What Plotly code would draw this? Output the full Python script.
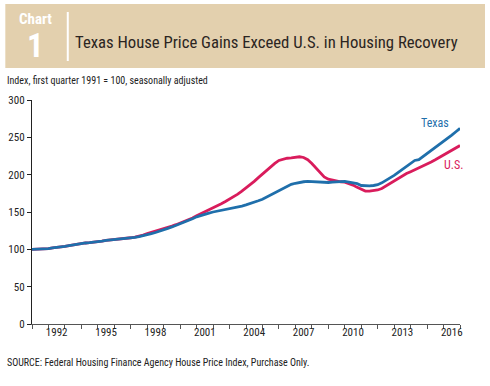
import plotly.graph_objects as go

# ---------------- data (quarterly, index 1991Q1 = 100) ----------------
years = list(range(1991, 2018))
texas = [
    100, 100, 100, 100.5,      # 1991
    101, 102, 102.5, 103,      # 1992
    104, 105, 106, 107,        # 1993
    108, 108.5, 109, 109.5,    # 1994
    110, 111, 112, 112.5,      # 1995
    113, 113.5, 114, 114.5,    # 1996
    115, 116, 117, 118,        # 1997
    119.5, 121, 122.5, 124,    # 1998
    126, 128, 130, 132,        # 1999
    134, 136.5, 139, 141,      # 2000
    143.5, 145.5, 147, 148.5,  # 2001
    150, 151, 152, 153,        # 2002
    154, 155, 156.5, 158,      # 2003
    159.5, 161, 163, 165,      # 2004
    167, 170, 173, 176,        # 2005
    179, 182, 185, 187,        # 2006
    188.5, 190, 190.5, 191,    # 2007
    190.5, 191, 190, 189.5,    # 2008
    189.5, 190, 190.5, 191,    # 2009
    191, 190, 189, 188,        # 2010
    185.5, 185, 185, 185.5,    # 2011
    186.5, 189, 192, 195,      # 2012
    199, 203, 207, 211,        # 2013
    215, 219, 220, 224,        # 2014
    228, 232, 236, 240,        # 2015
    244, 248.5, 253, 257.5,    # 2016
    262,                       # 2017Q1
]
us = [
    100, 100, 100, 100.5,      # 1991
    101, 102, 102.5, 103,      # 1992
    104, 105, 106, 107,        # 1993
    108, 108.5, 109, 109.5,    # 1994
    110, 111, 112, 112.5,      # 1995
    113, 113.5, 114.5, 115,    # 1996
    115.5, 116.5, 117.5, 119,  # 1997
    121, 122.5, 124, 125.5,    # 1998
    127, 129, 131, 133,        # 1999
    135, 137.5, 140, 142,      # 2000
    145, 147.5, 150, 152.5,    # 2001
    155, 158, 161, 164,        # 2002
    167, 170.5, 174, 178,      # 2003
    182, 186.5, 191, 196,      # 2004
    201, 206, 211, 215,        # 2005
    219, 221, 222, 222.5,      # 2006
    223, 224, 223, 220,        # 2007
    215, 209, 203, 197,        # 2008
    194, 192.5, 191.5, 190.5,  # 2009
    190, 188.5, 186, 183,      # 2010
    180, 178, 178, 178.5,      # 2011
    179.5, 181.5, 185, 188.5,  # 2012
    191.5, 195, 198.5, 201.5,  # 2013
    204, 206.5, 208.5, 211,    # 2014
    214, 217, 220, 223,        # 2015
    226, 229.5, 233, 236,      # 2016
    239,                       # 2017Q1
]
quarters = [1991 + i / 4 for i in range(len(texas))]
label_years = [1992, 1995, 1998, 2001, 2004, 2007, 2010, 2013, 2016]
y_ticks = [0, 50, 100, 150, 200, 250, 300]

BLUE = "#1f6fab"
RED = "#d91c5c"
BEIGE = "#e3d0ae"
NARROW = "Liberation Sans Narrow, Arial Narrow, Roboto Condensed, sans-serif"

W, H = 490, 386
L, R, T, B = 31.7, 30, 100, 62
pw, ph = W - L - R, H - T - B


def px(x):
    return (x - L) / pw


def py(y):
    return (H - B - y) / ph


fig = go.Figure()
fig.add_trace(go.Scatter(x=quarters, y=us, mode="lines", name="U.S.",
                         line=dict(color=RED, width=2.8), xaxis="x", yaxis="y"))
fig.add_trace(go.Scatter(x=quarters, y=texas, mode="lines", name="Texas",
                         line=dict(color=BLUE, width=2.8), xaxis="x", yaxis="y"))
# invisible trace to activate label axis
fig.add_trace(go.Scatter(x=[1991, 2017], y=[None, None], xaxis="x2", yaxis="y",
                         showlegend=False, hoverinfo="skip"))

fig.update_layout(
    width=W, height=H,
    margin=dict(l=L, r=R, t=T, b=B, autoexpand=False),
    paper_bgcolor="white", plot_bgcolor="white",
    showlegend=False,
    font=dict(family=NARROW, color="#222222", size=11),
    xaxis=dict(range=[1991, 2017], tickvals=years, ticktext=[""] * len(years),
               ticks="outside", ticklen=4, tickcolor="#555555", tickwidth=1,
               showline=True, linecolor="#555555", linewidth=1.3, automargin=False,
               showgrid=False, zeroline=False, fixedrange=True),
    xaxis2=dict(range=[1991, 2017], overlaying="x", anchor="y", side="bottom",
                tickvals=[y + 0.5 for y in label_years],
                ticktext=[str(y) for y in label_years], automargin=False,
                ticks="", showline=False, showgrid=False, zeroline=False,
                tickfont=dict(size=11, color="#222222", family=NARROW)),
    yaxis=dict(range=[0, 300], tickvals=y_ticks, ticks="outside", ticklen=4,
               tickcolor="#222222", showline=True, linecolor="#222222",
               linewidth=1.3, showgrid=False, zeroline=False, automargin=False,
               tickfont=dict(size=11, color="#222222", family=NARROW)),
)

# header band
fig.add_shape(type="rect", xref="paper", yref="paper",
              x0=px(5), x1=px(485), y0=py(68), y1=py(4),
              fillcolor=BEIGE, line=dict(width=0), layer="below")
fig.add_shape(type="line", xref="paper", yref="paper",
              x0=px(67.5), x1=px(67.5), y0=py(61), y1=py(12),
              line=dict(color="white", width=2))
fig.add_annotation(xref="paper", yref="paper", x=px(35), y=py(19),
                   text="<b>Chart</b>", showarrow=False, xanchor="center", yanchor="middle",
                   font=dict(family=NARROW, size=15, color="white"))
fig.add_annotation(xref="paper", yref="paper", x=px(35), y=py(46),
                   text="<b>1</b>", showarrow=False, xanchor="center", yanchor="middle",
                   font=dict(family=NARROW, size=33, color="white"))
fig.add_annotation(xref="paper", yref="paper", x=px(73), y=py(43),
                   text="Texas House Price Gains Exceed U.S. in Housing Recovery",
                   showarrow=False, xanchor="left", yanchor="middle",
                   font=dict(family=NARROW, size=16.7, color="#2b2522"))
fig.add_annotation(xref="paper", yref="paper", x=px(5), y=py(80),
                   text="Index, first quarter 1991 = 100, seasonally adjusted",
                   showarrow=False, xanchor="left", yanchor="middle",
                   font=dict(family=NARROW, size=10, color="#222222"))
fig.add_annotation(xref="paper", yref="paper", x=px(5), y=py(362),
                   text="SOURCE: Federal Housing Finance Agency House Price Index, Purchase Only.",
                   showarrow=False, xanchor="left", yanchor="middle",
                   font=dict(family=NARROW, size=10, color="#222222"))
fig.add_annotation(xref="paper", yref="paper", x=px(435), y=py(123),
                   text="Texas", showarrow=False, xanchor="center", yanchor="middle",
                   font=dict(family=NARROW, size=12, color=BLUE))
fig.add_annotation(xref="paper", yref="paper", x=px(453), y=py(164.5),
                   text="U.S.", showarrow=False, xanchor="center", yanchor="middle",
                   font=dict(family=NARROW, size=12, color=RED))

fig.write_html("out.html", config={"displayModeBar": False},
               post_script="document.body.style.margin='0';")
